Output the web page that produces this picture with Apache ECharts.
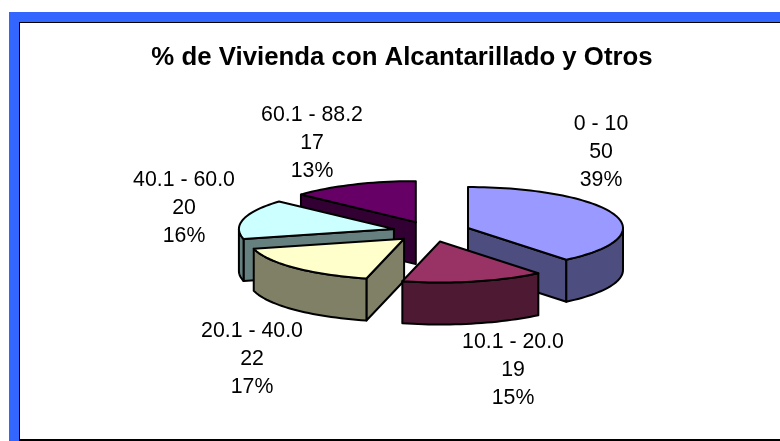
<!DOCTYPE html>
<html><head><meta charset="utf-8">
<style>html,body{margin:0;padding:0;background:#fff}#c{width:780px;height:441px}</style>
<script src="https://cdn.jsdelivr.net/npm/echarts@6/dist/echarts.min.js"></script>
</head><body><div id="c"></div>
<script>
const categories = ['0 - 10', '10.1 - 20.0', '20.1 - 40.0', '40.1 - 60.0', '60.1 - 88.2'];
const values = [50, 19, 22, 20, 17];
const topColors = ['#9999FF', '#993366', '#FFFFCC', '#CCFFFF', '#660066'];
const wallColors = ['#4D4D80', '#4D1933', '#808066', '#668080', '#330033'];
const paintOrder = [2, 4, 3, 1, 0]; // z rank per slice, back = 0
const labelPos = [[601, 152.5], [513, 370.5], [252, 359.5], [184, 208.5], [312, 143.5]];

const CX = 431.5, CY = 231.5, RX = 155, RY = 41, DEPTH = 42, EXPLODE = 0.25;
const total = values.reduce((a, b) => a + b, 0);
const rad = d => d * Math.PI / 180;

function rim(ax, ay, t, dy) {
  return [ax + RX * Math.sin(t), ay - RY * Math.cos(t) + (dy || 0)];
}
function arc(ax, ay, a, b, dy) {
  const n = Math.max(2, Math.ceil(Math.abs(b - a) / rad(2)));
  const pts = [];
  for (let i = 0; i <= n; i++) pts.push(rim(ax, ay, a + (b - a) * i / n, dy));
  return pts;
}
function renderItem(params, api) {
  const i = params.dataIndex;
  let start = 0;
  for (let k = 0; k < i; k++) start += values[k];
  const a = start / total * 2 * Math.PI;
  const b = (start + api.value(0)) / total * 2 * Math.PI;
  const m = (a + b) / 2;
  const ax = CX + EXPLODE * RX * Math.sin(m);
  const ay = CY - EXPLODE * RY * Math.cos(m);
  const z = paintOrder[i] * 10;
  const style = (fill) => ({ fill, stroke: '#000', lineWidth: 2, lineJoin: 'round' });
  const children = [];
  const face = (points, fill, dz) => children.push({
    type: 'polygon', shape: { points }, style: style(fill), z2: z + dz, silent: true
  });
  // cut faces
  if (Math.sin(a) < -1e-6) {
    const r = rim(ax, ay, a);
    face([[ax, ay], r, [r[0], r[1] + DEPTH], [ax, ay + DEPTH]], wallColors[i], 1);
  }
  if (Math.sin(b) > 1e-6) {
    const r = rim(ax, ay, b);
    face([[ax, ay], r, [r[0], r[1] + DEPTH], [ax, ay + DEPTH]], wallColors[i], 1);
  }
  // outer wall (front half only)
  const va = Math.max(a, Math.PI / 2), vb = Math.min(b, Math.PI * 1.5);
  if (vb > va) {
    face(arc(ax, ay, va, vb).concat(arc(ax, ay, vb, va, DEPTH)), wallColors[i], 2);
  }
  // top face
  face([[ax, ay]].concat(arc(ax, ay, a, b)), topColors[i], 3);
  // label
  children.push({
    type: 'text', x: labelPos[i][0], y: labelPos[i][1], silent: true, z2: 200,
    style: {
      text: categories[i] + '\n' + api.value(0) + '\n' + Math.round(api.value(0) / total * 100) + '%',
      fill: '#000', font: '21.3px "Liberation Sans"', lineHeight: 28,
      align: 'center', verticalAlign: 'middle'
    }
  });
  return { type: 'group', children };
}
const chart = echarts.init(document.getElementById('c'), null, { renderer: 'canvas' });
chart.setOption({
  animation: false,
  backgroundColor: '#fff',
  title: {
    text: '% de Vivienda con Alcantarillado y Otros',
    left: 397, top: 40, textAlign: 'center',
    textStyle: { fontFamily: 'Liberation Sans', fontWeight: 'bold', fontSize: 25.8, color: '#000' }
  },
  graphic: [
    { type: 'rect', silent: true, z: -10, shape: { x: 9, y: 12, width: 771, height: 429 }, style: { fill: '#3366FF' } },
    { type: 'rect', silent: true, z: -9, shape: { x: 19, y: 22, width: 761, height: 419 }, style: { fill: '#000' } },
    { type: 'rect', silent: true, z: -8, shape: { x: 20, y: 23, width: 760, height: 416 }, style: { fill: '#fff' } }
  ],
  series: [{
    type: 'custom', coordinateSystem: 'none', renderItem, clip: false,
    data: values.map((v, i) => ({ name: categories[i], value: [v] }))
  }]
});
</script></body></html>
